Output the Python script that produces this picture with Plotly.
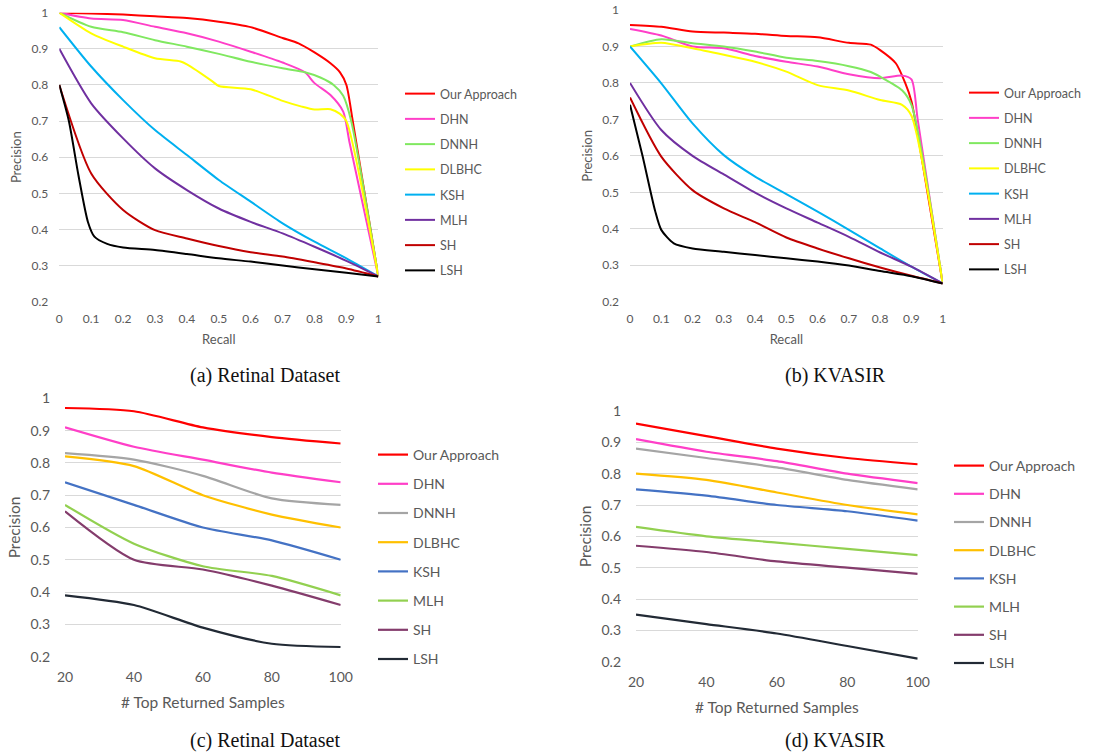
import plotly.graph_objects as go

W, H = 1098, 756

names = ["Our Approach", "DHN", "DNNH", "DLBHC", "KSH", "MLH", "SH", "LSH"]
colors_top = ["#FF0000", "#FF3FC8", "#80E860", "#FFFF00", "#00B0F0", "#7030A0", "#C00000", "#000000"]
colors_bot = ["#FF0000", "#FF3FC8", "#A5A5A5", "#FFC000", "#4472C4", "#92D050", "#843C6C", "#222A35"]

# ---------- (a) Retinal Dataset: precision-recall ----------
a_recall = {
    "Our Approach": [0, 0.1, 0.2, 0.3, 0.4, 0.5, 0.6, 0.7, 0.75, 0.8, 0.85, 0.88, 0.9, 0.92, 1.0],
    "DHN": [0, 0.1, 0.2, 0.3, 0.4, 0.5, 0.6, 0.7, 0.77, 0.8, 0.85, 0.89, 0.91, 1.0],
    "DNNH": [0, 0.1, 0.2, 0.3, 0.4, 0.5, 0.6, 0.7, 0.77, 0.82, 0.86, 0.89, 0.915, 1.0],
    "DLBHC": [0, 0.1, 0.2, 0.3, 0.38, 0.4, 0.48, 0.5, 0.6, 0.7, 0.76, 0.8, 0.85, 0.88, 0.9, 1.0],
    "KSH": [0, 0.1, 0.2, 0.3, 0.4, 0.5, 0.6, 0.7, 0.8, 0.9, 1.0],
    "MLH": [0, 0.1, 0.2, 0.3, 0.4, 0.5, 0.6, 0.7, 0.8, 0.9, 1.0],
    "SH": [0, 0.1, 0.2, 0.3, 0.4, 0.5, 0.6, 0.7, 0.8, 0.9, 1.0],
    "LSH": [0, 0.03, 0.06, 0.09, 0.11, 0.15, 0.2, 0.3, 0.4, 0.5, 0.6, 0.7, 0.8, 0.9, 1.0],
}
a_precision = {
    "Our Approach": [1.0, 0.998, 0.995, 0.99, 0.985, 0.975, 0.96, 0.93, 0.915, 0.89, 0.86, 0.835, 0.80, 0.70, 0.27],
    "DHN": [1.0, 0.984, 0.98, 0.961, 0.943, 0.92, 0.892, 0.862, 0.835, 0.805, 0.772, 0.726, 0.64, 0.27],
    "DNNH": [1.0, 0.961, 0.946, 0.924, 0.906, 0.886, 0.864, 0.846, 0.835, 0.82, 0.80, 0.77, 0.70, 0.27],
    "DLBHC": [1.0, 0.943, 0.906, 0.874, 0.865, 0.857, 0.81, 0.797, 0.788, 0.756, 0.74, 0.732, 0.733, 0.72, 0.70, 0.27],
    "KSH": [0.96, 0.851, 0.758, 0.675, 0.606, 0.537, 0.477, 0.417, 0.366, 0.32, 0.27],
    "MLH": [0.9, 0.749, 0.652, 0.569, 0.509, 0.458, 0.421, 0.389, 0.352, 0.313, 0.27],
    "SH": [0.8, 0.555, 0.454, 0.398, 0.375, 0.354, 0.337, 0.325, 0.309, 0.292, 0.27],
    "LSH": [0.8, 0.70, 0.55, 0.42, 0.38, 0.36, 0.35, 0.343, 0.332, 0.32, 0.311, 0.30, 0.29, 0.28, 0.27],
}

# ---------- (b) KVASIR: precision-recall ----------
b_recall = {
    "Our Approach": [0, 0.1, 0.2, 0.3, 0.4, 0.5, 0.6, 0.7, 0.77, 0.8, 0.85, 0.88, 0.9, 0.92, 1.0],
    "DHN": [0, 0.1, 0.2, 0.3, 0.4, 0.5, 0.6, 0.7, 0.8, 0.87, 0.9, 0.92, 1.0],
    "DNNH": [0, 0.1, 0.2, 0.3, 0.4, 0.5, 0.6, 0.7, 0.77, 0.8, 0.87, 0.9, 1.0],
    "DLBHC": [0, 0.1, 0.2, 0.3, 0.4, 0.5, 0.6, 0.7, 0.8, 0.87, 0.9, 1.0],
    "KSH": [0, 0.1, 0.2, 0.3, 0.4, 0.5, 0.6, 0.7, 0.8, 0.9, 1.0],
    "MLH": [0, 0.1, 0.2, 0.3, 0.4, 0.5, 0.6, 0.7, 0.8, 0.9, 1.0],
    "SH": [0, 0.1, 0.2, 0.3, 0.4, 0.5, 0.6, 0.7, 0.8, 0.9, 1.0],
    "LSH": [0, 0.04, 0.08, 0.1, 0.14, 0.2, 0.3, 0.4, 0.5, 0.6, 0.7, 0.8, 0.9, 1.0],
}
b_precision = {
    "Our Approach": [0.959, 0.954, 0.941, 0.938, 0.935, 0.929, 0.925, 0.91, 0.905, 0.89, 0.854, 0.80, 0.75, 0.66, 0.25],
    "DHN": [0.948, 0.93, 0.90, 0.895, 0.874, 0.858, 0.845, 0.824, 0.813, 0.82, 0.81, 0.70, 0.25],
    "DNNH": [0.90, 0.92, 0.909, 0.90, 0.886, 0.869, 0.86, 0.846, 0.83, 0.817, 0.78, 0.74, 0.25],
    "DLBHC": [0.90, 0.91, 0.895, 0.877, 0.858, 0.831, 0.794, 0.779, 0.753, 0.74, 0.71, 0.25],
    "KSH": [0.90, 0.799, 0.689, 0.602, 0.543, 0.495, 0.447, 0.397, 0.346, 0.296, 0.25],
    "MLH": [0.80, 0.671, 0.60, 0.549, 0.499, 0.456, 0.417, 0.378, 0.335, 0.296, 0.25],
    "SH": [0.76, 0.598, 0.506, 0.456, 0.418, 0.376, 0.346, 0.319, 0.294, 0.271, 0.25],
    "LSH": [0.74, 0.60, 0.45, 0.397, 0.36, 0.346, 0.337, 0.328, 0.319, 0.31, 0.299, 0.284, 0.27, 0.25],
}

# ---------- (c) / (d): precision vs # top returned samples ----------
top_samples = [20, 40, 60, 80, 100]
c_precision = {
    "Our Approach": [0.97, 0.96, 0.91, 0.88, 0.86],
    "DHN": [0.91, 0.85, 0.81, 0.77, 0.74],
    "DNNH": [0.83, 0.81, 0.76, 0.69, 0.67],
    "DLBHC": [0.82, 0.79, 0.70, 0.64, 0.60],
    "KSH": [0.74, 0.67, 0.60, 0.56, 0.50],
    "MLH": [0.67, 0.55, 0.48, 0.45, 0.39],
    "SH": [0.65, 0.50, 0.47, 0.42, 0.36],
    "LSH": [0.39, 0.36, 0.29, 0.24, 0.23],
}
d_precision = {
    "Our Approach": [0.96, 0.92, 0.88, 0.85, 0.83],
    "DHN": [0.91, 0.87, 0.84, 0.80, 0.77],
    "DNNH": [0.88, 0.85, 0.82, 0.78, 0.75],
    "DLBHC": [0.80, 0.78, 0.74, 0.70, 0.67],
    "KSH": [0.75, 0.73, 0.70, 0.68, 0.65],
    "MLH": [0.63, 0.60, 0.58, 0.56, 0.54],
    "SH": [0.57, 0.55, 0.52, 0.50, 0.48],
    "LSH": [0.35, 0.32, 0.29, 0.25, 0.21],
}

recall_ticks = [0, 0.1, 0.2, 0.3, 0.4, 0.5, 0.6, 0.7, 0.8, 0.9, 1.0]
recall_labels = ["0", "0.1", "0.2", "0.3", "0.4", "0.5", "0.6", "0.7", "0.8", "0.9", "1"]
prec_ticks = [0.2, 0.3, 0.4, 0.5, 0.6, 0.7, 0.8, 0.9, 1.0]
prec_labels = ["0.2", "0.3", "0.4", "0.5", "0.6", "0.7", "0.8", "0.9", "1"]
captions = ["(a) Retinal Dataset", "(b) KVASIR", "(c) Retinal Dataset", "(d) KVASIR"]

FONT = "Lato, 'Open Sans', sans-serif"
GRAY = "#595959"


def px_x(p):
    return p / W


def px_y(p):
    return 1 - p / H


fig = go.Figure()

panels = [
    dict(xa="x", ya="y", leg="legend", xs=a_recall, ys=a_precision, cols=colors_top),
    dict(xa="x2", ya="y2", leg="legend2", xs=b_recall, ys=b_precision, cols=colors_top),
    dict(xa="x3", ya="y3", leg="legend3", xs=None, ys=c_precision, cols=colors_bot),
    dict(xa="x4", ya="y4", leg="legend4", xs=None, ys=d_precision, cols=colors_bot),
]

for pi, p in enumerate(panels):
    for i, n in enumerate(names):
        xs = p["xs"][n] if p["xs"] is not None else top_samples
        fig.add_trace(go.Scatter(
            x=xs, y=p["ys"][n], mode="lines", name=n,
            line=dict(color=p["cols"][i], width=2 if pi < 2 else 2.2, shape="spline", smoothing=0.7),
            xaxis=p["xa"], yaxis=p["ya"], legend=p["leg"],
            legendgroup=f"p{pi}_{i}",
        ))

# axes domains (pixel measurements from reference)
doms = [
    dict(x=[px_x(59.3), px_x(378.3)], y=[px_y(301.7), px_y(12.7)]),
    dict(x=[px_x(630), px_x(942.7)], y=[px_y(301.7), px_y(10)]),
    dict(x=[px_x(65), px_x(340.7)], y=[px_y(656.7), px_y(398.3)]),
    dict(x=[px_x(636), px_x(917.7)], y=[px_y(661.7), px_y(411)]),
]

layout = dict(
    width=W, height=H, margin=dict(l=0, r=0, t=0, b=0, autoexpand=False),
    paper_bgcolor="white", plot_bgcolor="white",
    font=dict(family=FONT, color=GRAY),
    showlegend=True,
)

for k, d in enumerate(doms):
    sx = "" if k == 0 else str(k + 1)
    top = k < 2
    tfs = 12 if top else 14
    xa = dict(domain=d["x"], anchor="y" + sx, showgrid=False, zeroline=False, showline=False,
              automargin=False, ticks="", ticklabelstandoff=8 if top else 10,
              ticklabeloverflow="allow", tickfont=dict(size=tfs, color=GRAY),
              title=dict(text="Recall" if top else "# Top Returned Samples",
                         font=dict(size=13 if top else 15.5, color=GRAY), standoff=10 if top else 13))
    ya = dict(domain=d["y"], anchor="x" + sx, range=[0.2, 1.0], tickvals=prec_ticks, ticktext=prec_labels,
              showgrid=True, gridcolor="#D9D9D9", gridwidth=1, zeroline=False, showline=False,
              automargin=False, ticks="", ticklabelstandoff=10 if top else 14,
              ticklabeloverflow="allow", tickfont=dict(size=tfs, color=GRAY),
              title=dict(text="Precision", font=dict(size=13 if top else 15.5, color=GRAY), standoff=6))
    if top:
        xa.update(range=[0, 1], tickvals=recall_ticks, ticktext=recall_labels)
    else:
        xa.update(range=[20, 100], tickvals=top_samples, ticktext=[str(v) for v in top_samples])
    layout["xaxis" + sx] = xa
    layout["yaxis" + sx] = ya

legend_pos = [(400, 79), (964, 78), (373, 439), (949, 450)]
legend_gaps = [6, 6, 8, 7]
for k, (lx, ly) in enumerate(legend_pos):
    key = "legend" if k == 0 else f"legend{k + 1}"
    top = k < 2
    layout[key] = dict(
        x=px_x(lx), y=px_y(ly), xanchor="left", yanchor="top",
        bgcolor="rgba(0,0,0,0)", borderwidth=0,
        font=dict(family=FONT, size=12.5 if top else 14, color=GRAY),
        tracegroupgap=legend_gaps[k], itemwidth=30,
    )

fig.update_layout(**layout)

cap_pos = [(265, 375), (835, 375), (265, 740), (835, 740)]
for txt, (cx, cy) in zip(captions, cap_pos):
    fig.add_annotation(text=txt, x=px_x(cx), y=px_y(cy), xref="paper", yref="paper",
                       showarrow=False, xanchor="center", yanchor="middle",
                       font=dict(family="'Liberation Serif', 'DejaVu Serif', serif", size=20, color="#111111"))

# remove the default 8px page margin so the figure fills the window exactly
fig.write_html("out.html", config={"displayModeBar": False},
               post_script="document.body.style.margin='0px';")
